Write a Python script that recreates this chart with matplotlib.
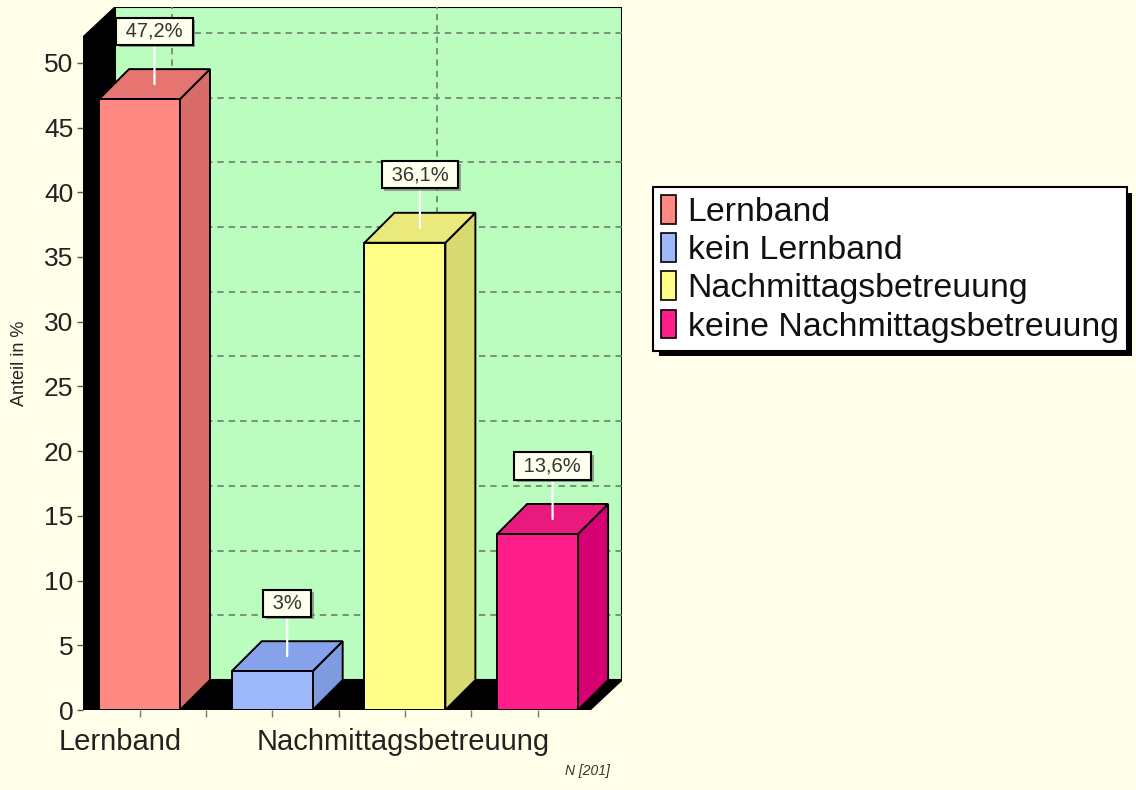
import matplotlib
matplotlib.use("Agg")
import matplotlib.pyplot as plt
from matplotlib.patches import Polygon, Rectangle, Patch
import matplotlib.patheffects as pe

# ---------------- data ----------------
categories = ["Lernband", "kein Lernband", "Nachmittagsbetreuung", "keine Nachmittagsbetreuung"]
values = [47.2, 3.0, 36.1, 13.6]
value_labels = ["47,2%", "3%", "36,1%", "13,6%"]
group_labels = ["Lernband", "Nachmittagsbetreuung"]
group_positions = [0, 2]
yticks = list(range(0, 51, 5))
y_label = "Anteil in %"
footnote = "N [201]"

front_colors = ["#FF8982", "#9DB9FA", "#FFFF88", "#FF1E8A"]
top_colors = ["#E67571", "#86A2EA", "#E9E97C", "#E9197D"]
side_colors = ["#D96B69", "#7F9BE0", "#D9D972", "#D60072"]

# ---------------- style ----------------
plt.rcParams['font.family'] = ['Liberation Sans', 'DejaVu Sans']
BG = "#FFFFEA"
PLANE = "#BBFDBF"
GRID = "#6F8A72"

W, H = 1136, 790
fig = plt.figure(figsize=(W / 100, H / 100), dpi=100, facecolor=BG)

# pixel geometry of the 3D frame
px_left, px_right_back, px_bottom, px_top_back = 83, 622, 710, 7
ax = fig.add_axes([px_left / W, 1 - px_bottom / H,
                   (px_right_back - px_left) / W, (px_bottom - px_top_back) / H])
ax.set_facecolor("none")
for s in ax.spines.values():
    s.set_visible(False)

px_per_x = 132.7
px_per_y = 12.96
XL = -(139.5 - 83) / px_per_x
XR = (590 - 139.5) / px_per_x
DX = 32 / px_per_x
DY = 30 / px_per_y
YT = 52.0
ax.set_xlim(XL, XR + DX)
ax.set_ylim(0, YT + DY)

# back plane
ax.add_patch(Rectangle((XL + DX, DY), XR - XL, YT, facecolor=PLANE,
                       edgecolor="black", lw=1.5, zorder=1))
# gridlines on back plane
for t in yticks[1:]:
    ax.plot([XL + DX, XR + DX], [t + DY, t + DY], color=GRID, lw=1.3,
            ls=(0, (3.5, 2.8)), zorder=2)
for gx in group_positions:
    ax.plot([gx + DX, gx + DX], [DY, YT + DY], color=GRID, lw=1.3,
            ls=(0, (3.5, 2.8)), zorder=2)
# left wall and floor (black)
ax.add_patch(Polygon([(XL, 0), (XL, YT), (XL + DX, YT + DY), (XL + DX, DY)],
                     closed=True, facecolor="black", edgecolor="black", zorder=3))
ax.add_patch(Polygon([(XL, 0), (XL + DX, DY), (XR + DX, DY), (XR, 0)],
                     closed=True, facecolor="black", edgecolor="black", zorder=3))

# bars
bw = 0.61
BDX = 30 / px_per_x
BDY = 30 / px_per_y
for i, v in enumerate(values):
    x0, x1 = i - bw / 2, i + bw / 2
    ax.add_patch(Polygon([(x1, 0), (x1 + BDX, BDY), (x1 + BDX, v + BDY), (x1, v)],
                         closed=True, facecolor=side_colors[i], edgecolor="black",
                         lw=1.4, zorder=5))
    ax.add_patch(Polygon([(x0, v), (x0 + BDX, v + BDY), (x1 + BDX, v + BDY), (x1, v)],
                         closed=True, facecolor=top_colors[i], edgecolor="black",
                         lw=1.4, zorder=5))
    ax.add_patch(Rectangle((x0, 0), bw, v, facecolor=front_colors[i],
                           edgecolor="black", lw=1.4, zorder=6))
    ann = ax.annotate(" " + value_labels[i] + " ", xy=(i + BDX / 2, v + BDY / 2),
                      xytext=(0, 53), textcoords="offset pixels",
                      ha="center", va="center", fontsize=14.5, color="#333333",
                      bbox=dict(boxstyle="square,pad=0.2", fc="#FFFFEE",
                                ec="black", lw=1.5),
                      arrowprops=dict(arrowstyle="-", color="white", lw=1.6,
                                      shrinkA=0, shrinkB=0),
                      zorder=8, annotation_clip=False)
    ann.get_bbox_patch().set_path_effects([
        pe.SimplePatchShadow(offset=(2, -2), shadow_rgbFace="#777777", alpha=0.7),
        pe.Normal()])

# axes ticks
ax.set_yticks(yticks)
ax.set_yticklabels([str(t) for t in yticks])
ax.set_yticks(range(0, 52), minor=True)
ax.tick_params(axis="y", which="major", direction="out", length=4, width=1,
               color="#555555", labelsize=19, labelcolor="#222222", pad=3)
ax.tick_params(axis="y", which="minor", direction="in", length=2, width=1,
               color="#8A8A8A")
ax.set_xticks([0, 0.5, 1, 1.5, 2, 2.5, 3])
ax.set_xticklabels([])
ax.tick_params(axis="x", which="major", direction="out", length=5, width=1,
               color="#777777")
ax.tick_params(axis="x", which="minor", bottom=False)

for gp, gl, sh in zip(group_positions, group_labels, [-19 / px_per_x, -2 / px_per_x]):
    ax.text(gp + sh, -40 / px_per_y, gl, ha="center", va="baseline",
            fontsize=21, color="#222222", clip_on=False)

fig.text(20 / W, 1 - 363 / H, y_label, rotation=90, ha="center", va="center",
         fontsize=13, color="#222222")
fig.text(587 / W, 1 - 775 / H, footnote, ha="center", va="baseline",
         fontsize=10, style="italic", color="#333333")

# legend
handles = [Patch(facecolor=c, edgecolor="black", lw=1.2) for c in front_colors]
leg = fig.legend(handles, categories, loc="upper left",
                 bbox_to_anchor=(653 / W, 1 - 187 / H), fontsize=24.4,
                 frameon=True, fancybox=False, edgecolor="black",
                 facecolor="white", framealpha=1, handlelength=0.45,
                 handleheight=0.93, handletextpad=0.33, labelspacing=0.15,
                 borderpad=0.24, borderaxespad=0)
leg.get_frame().set_linewidth(1.5)
leg.get_frame().set_path_effects([
    pe.SimplePatchShadow(offset=(4, -4), shadow_rgbFace="black", alpha=1),
    pe.Normal()])
for t in leg.get_texts():
    t.set_color("#111111")

fig.savefig("out.png", dpi=100, facecolor=BG)
